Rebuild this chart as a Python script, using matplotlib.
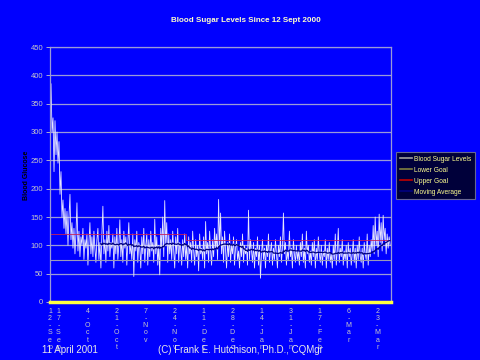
import matplotlib
matplotlib.use("Agg")
import matplotlib.pyplot as plt
import numpy as np

# readings, left to right (about one per pixel column of the original)
readings = [
    385, 300, 325, 230, 320, 260, 300, 245, 283, 190, 230,
    150, 180, 130, 165, 120, 160, 100, 150, 190, 110,
    140, 95, 130, 85, 120, 175, 90, 125, 80, 115,
    100, 130, 75, 110, 95, 120, 65, 105, 140, 85,
    115, 80, 125, 95, 70, 110, 130, 75, 105, 60,
    120, 169, 85, 110, 70, 125, 90, 135, 80, 105,
    95, 120, 60, 115, 85, 130, 75, 100, 145, 80,
    110, 70, 125, 95, 115, 65, 105, 140, 85, 100,
    75, 120, 45, 110, 90, 125, 70, 105, 95, 60,
    115, 85, 130, 70, 100, 120, 65, 110, 80, 125,
    90, 105, 70, 146, 85, 115, 65, 100, 48, 130,
    95, 150, 80, 179, 100, 140, 70, 120, 85, 110,
    75, 125, 90, 60, 115, 85, 130, 70, 105, 95,
    65, 110, 80, 120, 75, 100, 60, 115, 85, 105,
    70, 125, 90, 65, 110, 80, 100, 55, 120, 85,
    95, 75, 115, 60, 142, 85, 105, 70, 125, 90,
    65, 110, 80, 130, 95, 120, 75, 181, 100, 157,
    85, 115, 70, 125, 90, 60, 105, 80, 120, 70,
    100, 85, 115, 65, 95, 110, 75, 90, 60, 105,
    80, 120, 70, 100, 85, 95, 65, 162, 75, 110,
    90, 70, 105, 60, 95, 80, 115, 65, 100, 42,
    85, 110, 75, 95, 60, 100, 80, 120, 70, 90,
    105, 65, 95, 75, 110, 85, 60, 100, 80, 115,
    70, 95, 157, 85, 105, 65, 90, 75, 125, 80,
    95, 60, 110, 85, 70, 100, 75, 90, 65, 105,
    80, 120, 70, 95, 60, 125, 85, 100, 70, 90,
    65, 105, 80, 110, 60, 95, 75, 115, 85, 70,
    100, 65, 90, 80, 110, 60, 95, 75, 105, 70,
    85, 60, 100, 75, 120, 65, 90, 130, 70, 95,
    80, 110, 65, 90, 75, 100, 60, 105, 80, 95,
    65, 85, 110, 70, 95, 60, 100, 75, 115, 80,
    70, 95, 60, 105, 85, 75, 120, 65, 100, 80,
    110, 90, 135, 85, 150, 100, 125, 80, 155, 105,
    140, 90, 153, 110, 130, 85, 120, 95, 115, 100,
]

# goals - upper goal was lowered around 1 Dec
lower_goal = 75
upper_goal_days = [0, 80, 80, 200]
upper_goal_vals = [120, 120, 110, 110]

tick_days = [0, 5, 22, 39, 56, 73, 90, 107, 124, 141, 158, 175, 192]
tick_labels = ["12-Sep", "17-Sep", "4-Oct", "21-Oct", "7-Nov", "24-Nov", "11-Dec",
               "28-Dec", "14-Jan", "31-Jan", "17-Feb", "6-Mar", "23-Mar"]

BLUE = "#0000ff"
GRID = "#9a9ad8"
TXT = "#c8c8c8"


def moving_avg(x, w=25):
    return np.convolve(x, np.ones(w) / w, mode="valid")


def main():
    plt.rcParams["font.family"] = ["Liberation Sans", "DejaVu Sans"]
    fig = plt.figure(figsize=(4.8, 3.6), dpi=100, facecolor=BLUE)
    ax = fig.add_axes([50 / 480, 1 - 302 / 360, 341 / 480, 255 / 360], facecolor=BLUE)

    vals = np.array(readings, dtype=float)
    days = np.linspace(0.6, 199.5, len(vals))

    ax.plot(days, vals, color="#e6e6ff", lw=0.6, label="Blood Sugar Levels")
    ax.plot([0, 200], [lower_goal, lower_goal], color="#9a9ab8", lw=0.8, label="Lower Goal")
    ax.plot(upper_goal_days, upper_goal_vals, color="#c8205a", lw=0.6, label="Upper Goal")

    w = 25
    ma = moving_avg(vals, w)
    ma_days = days[w - 1:]
    start = 26  # earlier part of the average is buried under the readings
    ax.plot(ma_days[start:], ma[start:], color="#000080", lw=0.9, label="Moving Average")

    ax.set_xlim(0, 200)
    ax.set_ylim(0, 450)
    ax.set_yticks(range(0, 451, 50))
    ax.grid(axis="y", color=GRID, lw=0.9)
    ax.set_axisbelow(True)
    ax.tick_params(axis="y", colors=TXT, labelsize=5.5, length=3, width=0.6, pad=2)
    ax.set_xticks(tick_days)
    ax.set_xticklabels(["\n".join(t) for t in tick_labels], color=TXT, fontsize=5,
                       linespacing=1.05, va="top")
    ax.tick_params(axis="x", length=0, pad=4)

    for s in ["left", "top", "right"]:
        ax.spines[s].set_color(GRID)
        ax.spines[s].set_linewidth(0.9)
    ax.spines["bottom"].set_color("#ffff40")
    ax.spines["bottom"].set_linewidth(2.5)

    fig.text(246 / 480, 1 - 21 / 360, "Blood Sugar Levels Since 12 Sept 2000", color="#ffffc8",
             fontsize=5.8, fontweight="bold", ha="center", va="center")
    fig.text(26 / 480, 1 - 175 / 360, "Blood Glucose", color="black", fontsize=5,
             fontweight="bold", rotation=90, ha="center", va="center")
    fig.text(42 / 480, 1 - 353 / 360, "11 April 2001", color="#e8e8e8", fontsize=7,
             ha="left", va="baseline")
    fig.text(240 / 480, 1 - 353 / 360, "(C) Frank E. Hutchison, Ph.D., CQMgr", color="#e8e8e8",
             fontsize=7, ha="center", va="baseline")

    leg = fig.legend(loc="center left", bbox_to_anchor=(396 / 480, 1 - 175.5 / 360),
                     fontsize=4.8, handlelength=1.9, handletextpad=0.3, labelspacing=0.6,
                     borderpad=0.55, borderaxespad=0, frameon=True, fancybox=False)
    leg.get_frame().set_facecolor("#000008")
    leg.get_frame().set_edgecolor("#808090")
    leg.get_frame().set_linewidth(0.8)
    for t in leg.get_texts():
        t.set_color("#ffff90")
    lcols = ["#a0a0a0", "#808040", "#c00000", "#000080"]
    for h, c in zip(leg.get_lines(), lcols):
        h.set_color(c)
        h.set_linewidth(1.2)

    fig.savefig("out.png", dpi=100, facecolor=BLUE)


if __name__ == "__main__":
    main()
